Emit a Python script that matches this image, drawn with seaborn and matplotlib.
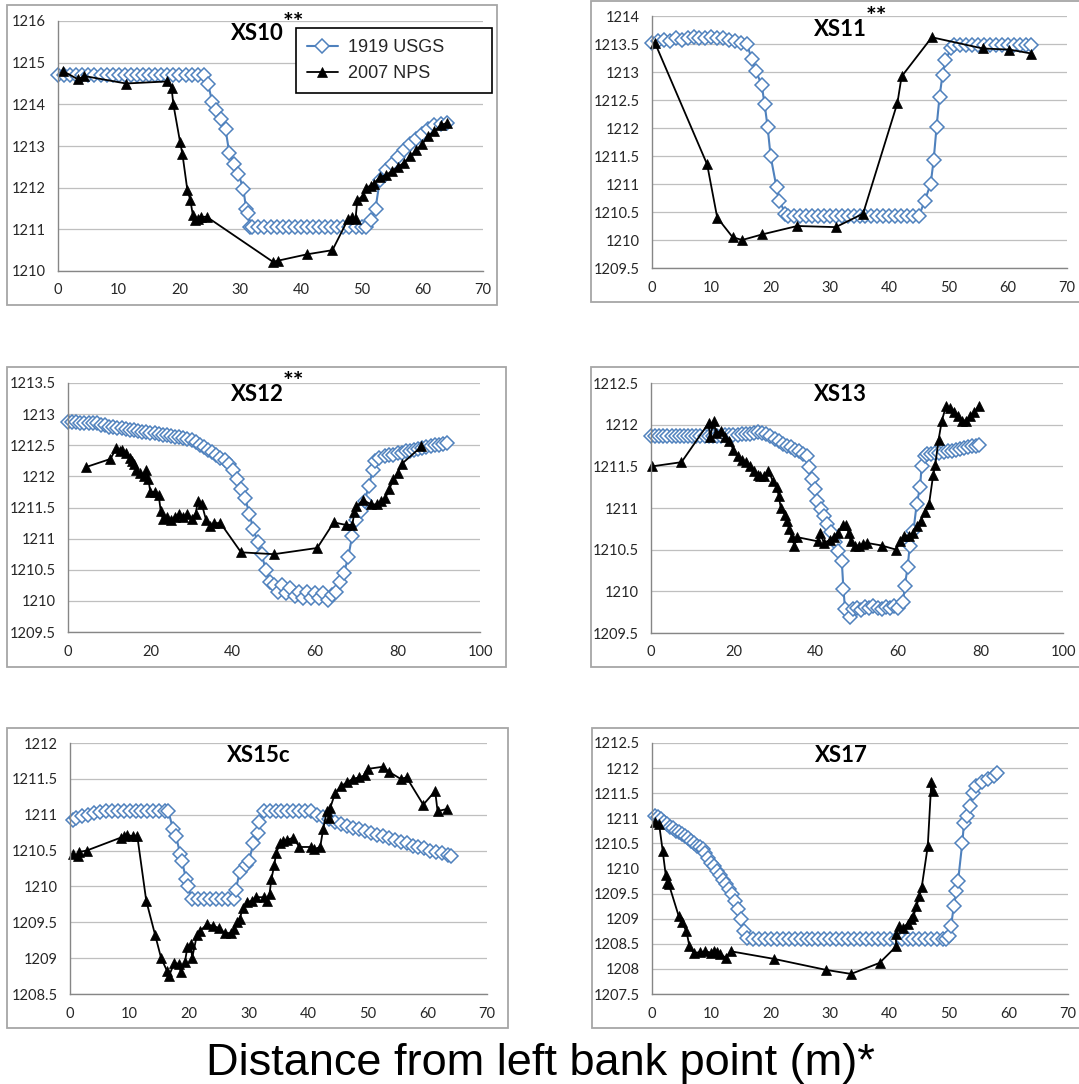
import matplotlib
matplotlib.use("Agg")
import matplotlib.pyplot as plt
import seaborn as sns
from matplotlib.patches import Rectangle

# ---- XS10 ----
xs10_usgs_x = [0, 1, 2, 3, 4, 5, 6, 7, 8, 9, 10, 11, 12, 13, 14, 15, 16, 17, 18, 19, 20, 21, 22, 23, 24,
               24.7, 25.4, 26.0, 26.9, 27.6, 28.2, 29.0, 29.7, 30.5, 31.0, 31.3, 31.7,
               32, 33, 34, 35, 36, 37, 38, 39, 40, 41, 42, 43, 44, 45, 46, 47, 48, 49, 50,
               50.8, 51.6, 52.3, 53.0, 54, 55, 56, 57, 58, 59, 60, 61, 62, 63, 64]
xs10_usgs_y = [1214.7, 1214.7, 1214.7, 1214.7, 1214.7, 1214.7, 1214.7, 1214.7, 1214.7, 1214.7,
               1214.7, 1214.7, 1214.7, 1214.7, 1214.7, 1214.7, 1214.7, 1214.7, 1214.7, 1214.7,
               1214.7, 1214.7, 1214.7, 1214.7, 1214.7,
               1214.5, 1214.06, 1213.86, 1213.66, 1213.4, 1212.84, 1212.58, 1212.34, 1211.98, 1211.5, 1211.38, 1211.05,
               1211.05, 1211.05, 1211.05, 1211.05, 1211.05, 1211.05, 1211.05, 1211.05, 1211.05, 1211.05,
               1211.05, 1211.05, 1211.05, 1211.05, 1211.05, 1211.05, 1211.05, 1211.05, 1211.05,
               1211.05, 1211.22, 1211.5, 1212.18, 1212.42, 1212.58, 1212.74, 1212.9, 1213.06, 1213.18,
               1213.3, 1213.4, 1213.5, 1213.52, 1213.55]
xs10_nps_x = [0.8, 3.3, 4.3, 11.2, 18.0, 18.7, 19.0, 20.1, 20.5, 21.3, 21.8, 22.2, 22.6, 23.0, 23.5, 24.5,
              35.4, 36.3, 41.0, 45.2, 47.8, 48.5, 49.0, 49.3, 50.2, 50.8, 51.5, 52.0, 53.0, 54.0, 55.0,
              56.0, 57.0, 58.0, 59.0, 60.0, 61.0, 62.0, 63.0, 64.0]
xs10_nps_y = [1214.8, 1214.6, 1214.68, 1214.5, 1214.55, 1214.4, 1214.0, 1213.1, 1212.8, 1211.95, 1211.7,
              1211.35, 1211.22, 1211.25, 1211.3, 1211.3, 1210.22, 1210.25, 1210.4, 1210.5, 1211.25, 1211.3,
              1211.25, 1211.7, 1211.8, 1212.0, 1212.05, 1212.1, 1212.25, 1212.3, 1212.4, 1212.5, 1212.6,
              1212.75, 1212.9, 1213.05, 1213.25, 1213.35, 1213.5, 1213.55]

# ---- XS11 ----
xs11_usgs_x = [0, 1, 2, 3, 4, 5, 6, 7, 8, 9, 10, 11, 12, 13, 14, 15, 16,
               16.8, 17.5, 18.5, 19, 19.5, 20, 21, 21.5, 22.5,
               23, 24, 25, 26, 27, 28, 29, 30, 31, 32, 33, 34, 35, 36, 37, 38, 39, 40, 41, 42, 43, 44, 45,
               46, 47, 47.5, 48, 48.5, 49, 49.5, 50.5,
               51, 52, 53, 54, 55, 56, 57, 58, 59, 60, 61, 62, 63, 64]
xs11_usgs_y = [1213.52, 1213.55, 1213.57, 1213.55, 1213.6, 1213.58, 1213.6, 1213.62, 1213.6, 1213.6,
               1213.62, 1213.6, 1213.6, 1213.57, 1213.55, 1213.52, 1213.5,
               1213.24, 1213.02, 1212.77, 1212.42, 1212.02, 1211.5, 1210.94, 1210.7, 1210.47,
               1210.42, 1210.42, 1210.42, 1210.42, 1210.42, 1210.42, 1210.42, 1210.42, 1210.42, 1210.42,
               1210.42, 1210.42, 1210.42, 1210.42, 1210.42, 1210.42, 1210.42, 1210.42, 1210.42, 1210.42,
               1210.42, 1210.42, 1210.42,
               1210.7, 1211.0, 1211.42, 1212.02, 1212.56, 1212.95, 1213.22, 1213.42,
               1213.48, 1213.48, 1213.48, 1213.48, 1213.48, 1213.48, 1213.48, 1213.48, 1213.48, 1213.48,
               1213.48, 1213.48, 1213.48, 1213.48]
xs11_nps_x = [0.5, 9.3, 11.0, 13.6, 15.2, 18.6, 24.5, 31.0, 35.6, 41.4, 42.1, 47.2, 55.8, 60.3, 64.0]
xs11_nps_y = [1213.52, 1211.35, 1210.4, 1210.05, 1210.0, 1210.1, 1210.25, 1210.23, 1210.47, 1212.45,
              1212.92, 1213.62, 1213.42, 1213.4, 1213.33]

# ---- XS12 ----
xs12_usgs_x = [0, 1, 2, 3, 4, 5, 6, 7, 8, 9, 10, 11, 12, 13, 14, 15, 16, 17, 18, 19, 20, 21, 22, 23, 24,
               25, 26, 27, 28, 29, 30, 31, 32, 33, 34, 35, 36, 37, 38, 39, 40, 41, 42, 43, 44, 45, 46, 47,
               48, 49, 50, 51, 52, 53, 54, 55, 56, 57, 58, 59, 60, 61, 62, 63, 64, 65, 66, 67, 68, 69, 70,
               71, 72, 73, 74, 74.5, 75.5, 77, 78, 79, 80, 81, 82, 83, 84, 85, 86, 87, 88, 89, 90, 91, 92]
xs12_usgs_y = [1212.87, 1212.87, 1212.87, 1212.86, 1212.86, 1212.86, 1212.85, 1212.85, 1212.83, 1212.82,
               1212.8, 1212.79, 1212.78, 1212.77, 1212.76, 1212.75, 1212.74, 1212.73, 1212.72, 1212.71,
               1212.7, 1212.69, 1212.68, 1212.67, 1212.66, 1212.65, 1212.64, 1212.63, 1212.62, 1212.6,
               1212.58, 1212.55, 1212.51, 1212.47, 1212.43, 1212.39, 1212.35, 1212.3, 1212.26, 1212.2,
               1212.1, 1211.95, 1211.8, 1211.65, 1211.4, 1211.15, 1210.95, 1210.75, 1210.5, 1210.3,
               1210.25, 1210.15, 1210.25, 1210.12, 1210.2, 1210.08, 1210.15, 1210.05, 1210.15, 1210.05,
               1210.12, 1210.05, 1210.12, 1210.02, 1210.1, 1210.15, 1210.3, 1210.45, 1210.7, 1211.05,
               1211.3, 1211.45, 1211.6, 1211.85, 1212.1, 1212.25, 1212.3, 1212.32, 1212.34, 1212.35,
               1212.37, 1212.38, 1212.4, 1212.41, 1212.43, 1212.44, 1212.46, 1212.47, 1212.48, 1212.5,
               1212.51, 1212.52, 1212.53]
xs12_nps_x = [4.4, 10.3, 11.7, 12.5, 13.0, 14.0, 15.0, 15.5, 16.0, 16.5, 17.5, 18.5, 19.0, 19.5, 20.0,
              21.0, 22.0, 22.5, 23.0, 24.0, 25.0, 26.0, 27.0, 28.0, 29.0, 30.0, 31.0, 31.5, 32.5, 33.5,
              34.5, 35.5, 37.0, 42.0, 50.0, 60.5, 64.5, 67.5, 69.0, 69.5, 70.0, 71.7, 73.5, 75.0, 76.0,
              77.0, 78.0, 79.0, 80.0, 81.0, 85.8]
xs12_nps_y = [1212.15, 1212.28, 1212.45, 1212.4, 1212.42, 1212.38, 1212.3, 1212.25, 1212.2, 1212.1,
              1212.05, 1212.0, 1212.1, 1211.95, 1211.75, 1211.75, 1211.7, 1211.45, 1211.32, 1211.35,
              1211.3, 1211.35, 1211.4, 1211.35, 1211.4, 1211.32, 1211.4, 1211.6, 1211.55, 1211.3,
              1211.2, 1211.25, 1211.25, 1210.78, 1210.75, 1210.85, 1211.26, 1211.22, 1211.22, 1211.42,
              1211.52, 1211.62, 1211.55, 1211.55, 1211.6, 1211.65, 1211.8, 1211.95, 1212.05, 1212.2,
              1212.48]

# ---- XS13 ----
xs13_usgs_x = [0, 1, 2, 3, 4, 5, 6, 7, 8, 9, 10, 11, 12, 13, 14, 15, 16, 17, 18, 19, 20, 21, 22, 23, 24,
               25, 26, 27, 28, 29, 30, 31, 32, 33, 34, 35, 36, 37, 37.8, 38.4, 39, 39.8, 40.4, 41.2, 42,
               42.6, 43.6, 44.7, 45.5, 46.3, 46.7, 47.1, 48.3, 49.1, 50, 51, 52, 53, 54, 55, 56, 57, 58,
               59, 60, 61.2, 61.6, 62.3, 62.8, 63.7, 64.5, 65.3, 65.7, 66.5, 67, 68, 69, 70, 71, 72, 73,
               74, 75, 76, 77, 78, 79, 79.5]
xs13_usgs_y = [1211.87, 1211.87, 1211.86, 1211.87, 1211.87, 1211.86, 1211.87, 1211.87, 1211.86, 1211.87,
               1211.87, 1211.86, 1211.87, 1211.87, 1211.86, 1211.87, 1211.87, 1211.87, 1211.88, 1211.88,
               1211.88, 1211.88, 1211.89, 1211.89, 1211.89, 1211.9, 1211.91, 1211.9, 1211.89, 1211.86,
               1211.83, 1211.8, 1211.77, 1211.75, 1211.73, 1211.7, 1211.68, 1211.65, 1211.63, 1211.49,
               1211.35, 1211.23, 1211.09, 1210.99, 1210.9, 1210.81, 1210.71, 1210.59, 1210.49, 1210.37,
               1210.03, 1209.79, 1209.69, 1209.79, 1209.8, 1209.78, 1209.81, 1209.8, 1209.82, 1209.8,
               1209.79, 1209.81, 1209.8, 1209.82, 1209.8, 1209.87, 1210.07, 1210.29, 1210.55, 1210.73,
               1211.05, 1211.25, 1211.51, 1211.63, 1211.65, 1211.65, 1211.66, 1211.66, 1211.67, 1211.68,
               1211.69, 1211.7, 1211.71, 1211.72, 1211.73, 1211.74, 1211.75, 1211.76]
xs13_nps_x = [0.3, 7.4, 14.0, 14.3, 15.3, 15.7, 17.0, 18.0, 19.0, 20.0, 21.0, 22.0, 23.0, 24.0, 25.0,
              26.0, 26.5, 27.5, 28.5, 29.5, 30.5, 31.0, 31.5, 32.5, 33.0, 33.5, 34.2, 34.8, 35.5, 40.5,
              41.0, 42.0, 43.5, 44.5, 45.5, 46.5, 47.3, 48.0, 48.5, 49.5, 50.5, 51.5, 52.5, 56.0, 59.5,
              60.5, 61.5, 62.5, 63.5, 64.5, 65.5, 66.5, 67.5, 68.5, 69.0, 69.8, 70.6, 71.6, 72.5, 73.5,
              74.5, 75.5, 76.5, 77.5, 78.5, 79.5]
xs13_nps_y = [1211.5, 1211.55, 1212.02, 1211.85, 1212.05, 1211.9, 1211.92, 1211.85, 1211.8, 1211.7,
              1211.62, 1211.58, 1211.55, 1211.5, 1211.45, 1211.4, 1211.38, 1211.38, 1211.45, 1211.33,
              1211.25, 1211.15, 1211.0, 1210.92, 1210.85, 1210.75, 1210.65, 1210.55, 1210.65, 1210.6,
              1210.7, 1210.58, 1210.62, 1210.65, 1210.7, 1210.8, 1210.8, 1210.7, 1210.6, 1210.55,
              1210.55, 1210.57, 1210.58, 1210.55, 1210.5, 1210.6, 1210.67, 1210.67, 1210.7, 1210.78,
              1210.85, 1210.95, 1211.05, 1211.4, 1211.52, 1211.82, 1212.05, 1212.22, 1212.2, 1212.15,
              1212.1, 1212.05, 1212.05, 1212.1, 1212.15, 1212.22]

# ---- XS15c ----
xs15_usgs_x = [0.5, 1, 2, 3, 4, 5, 6, 7, 8, 9, 10, 11, 12, 13, 14, 15, 16, 16.5, 17.3, 17.8, 18.5, 18.8,
               19.5, 19.8, 20.5, 21.5, 22.5, 23.5, 24.5, 25.5, 26.5, 27.5, 27.8, 28.5, 29.5, 30, 30.8,
               31.5, 31.8, 32.5, 33.5, 34.5, 35.5, 36.5, 37.5, 38.5, 39.5, 40.5, 41.5, 42.5, 43.5, 44.5,
               45.5, 46.5, 47.5, 48.5, 49.5, 50.5, 51.5, 52.5, 53.5, 54.5, 55.5, 56.5, 57.5, 58.5, 59.5,
               60.5, 61.5, 62.5, 63.5, 64]
xs15_usgs_y = [1210.92, 1210.95, 1210.98, 1211.0, 1211.02, 1211.04, 1211.05, 1211.05, 1211.05, 1211.05,
               1211.05, 1211.05, 1211.05, 1211.05, 1211.05, 1211.05, 1211.05, 1211.05, 1210.8, 1210.7,
               1210.45, 1210.35, 1210.1, 1210.0, 1209.82, 1209.82, 1209.82, 1209.82, 1209.82, 1209.82,
               1209.82, 1209.82, 1209.95, 1210.2, 1210.3, 1210.35, 1210.6, 1210.75, 1210.9, 1211.05,
               1211.05, 1211.05, 1211.05, 1211.05, 1211.05, 1211.05, 1211.05, 1211.05, 1211.0, 1210.97,
               1210.94, 1210.9, 1210.87, 1210.84, 1210.82, 1210.8, 1210.77, 1210.75, 1210.72, 1210.7,
               1210.67, 1210.65, 1210.62, 1210.6, 1210.57, 1210.55, 1210.53, 1210.5, 1210.48, 1210.46,
               1210.44, 1210.43]
xs15_nps_x = [0.5, 1.3, 1.5, 2.8, 8.5, 9.0, 9.5, 10.5, 11.3, 12.8, 14.3, 15.3, 16.3, 16.6, 17.5, 18.3,
              18.6, 19.3, 19.7, 20.3, 20.5, 21.3, 21.8, 23.0, 24.0, 25.0, 26.0, 27.0, 27.5, 28.0, 28.5,
              29.0, 29.7, 30.5, 31.2, 32.5, 33.0, 33.5, 33.8, 34.3, 34.6, 35.3, 35.7, 36.5, 37.5, 38.5,
              40.5, 41.0, 42.0, 42.5, 43.1, 43.5, 43.7, 44.5, 45.5, 46.5, 47.5, 48.5, 49.5, 50.1, 52.6,
              53.5, 55.5, 56.5, 59.3, 61.3, 61.7, 63.3]
xs15_nps_y = [1210.45, 1210.42, 1210.48, 1210.5, 1210.68, 1210.7, 1210.72, 1210.7, 1210.7, 1209.8,
              1209.32, 1209.0, 1208.82, 1208.75, 1208.93, 1208.92, 1208.8, 1208.95, 1209.15, 1209.2,
              1209.0, 1209.32, 1209.38, 1209.47, 1209.45, 1209.42, 1209.35, 1209.35, 1209.4, 1209.5,
              1209.55, 1209.7, 1209.78, 1209.8, 1209.85, 1209.85, 1209.8, 1209.9, 1210.1, 1210.3,
              1210.47, 1210.6, 1210.63, 1210.65, 1210.68, 1210.55, 1210.55, 1210.52, 1210.55, 1210.8,
              1211.05, 1210.95, 1211.1, 1211.3, 1211.4, 1211.45, 1211.5, 1211.52, 1211.55, 1211.64,
              1211.67, 1211.6, 1211.5, 1211.52, 1211.14, 1211.33, 1211.05, 1211.08]

# ---- XS17 ----
xs17_usgs_x = [0.5, 1, 1.5, 2, 2.5, 3, 3.5, 4, 4.5, 5, 5.5, 6, 6.5, 7, 7.5, 8, 8.5, 9, 9.5, 10, 10.5,
               11, 11.5, 12, 12.5, 13, 13.5, 14, 14.5, 15, 15.5, 16,
               17, 18, 19, 20, 21, 22, 23, 24, 25, 26, 27, 28, 29, 30, 31, 32, 33, 34, 35, 36, 37, 38,
               39, 40, 41, 42, 43, 44, 45, 46, 47, 48, 49,
               49.5, 50, 50.3, 50.8, 51.2, 51.5, 52.2, 52.5, 53, 53.5, 54, 54.5, 55.5, 56.5, 57.5, 58]
xs17_usgs_y = [1211.05, 1211.02, 1210.98, 1210.93, 1210.88, 1210.83, 1210.8, 1210.75, 1210.72, 1210.68,
               1210.65, 1210.6, 1210.55, 1210.5, 1210.45, 1210.42, 1210.38, 1210.3, 1210.2, 1210.1,
               1210.05, 1209.95, 1209.87, 1209.78, 1209.7, 1209.6, 1209.5, 1209.35, 1209.2, 1209.0,
               1208.75, 1208.62,
               1208.6, 1208.6, 1208.6, 1208.6, 1208.6, 1208.6, 1208.6, 1208.6, 1208.6, 1208.6, 1208.6,
               1208.6, 1208.6, 1208.6, 1208.6, 1208.6, 1208.6, 1208.6, 1208.6, 1208.6, 1208.6, 1208.6,
               1208.6, 1208.6, 1208.6, 1208.6, 1208.6, 1208.6, 1208.6, 1208.6, 1208.6, 1208.6, 1208.6,
               1208.6, 1208.65, 1208.85, 1209.25, 1209.55, 1209.75, 1210.5, 1210.9, 1211.05, 1211.25,
               1211.5, 1211.65, 1211.72, 1211.78, 1211.85, 1211.9]
xs17_nps_x = [0.5, 1.2, 1.8, 2.3, 2.6, 2.8, 4.5, 5.0, 5.8, 6.3, 7.0, 8.0, 9.0, 10.0, 10.5, 11.0, 11.5,
              12.4, 13.3, 20.5, 29.3, 33.5, 38.3, 41.1, 41.0, 41.5, 42.2, 43.0, 43.5, 44.0, 44.5, 45.0,
              45.4, 46.4, 47.0, 47.2]
xs17_nps_y = [1210.92, 1210.88, 1210.35, 1209.88, 1209.72, 1209.7, 1209.05, 1208.93, 1208.75, 1208.45,
              1208.32, 1208.33, 1208.35, 1208.32, 1208.35, 1208.33, 1208.3, 1208.22, 1208.35, 1208.2,
              1207.98, 1207.9, 1208.12, 1208.45, 1208.7, 1208.85, 1208.82, 1208.9, 1209.0, 1209.05,
              1209.25, 1209.45, 1209.64, 1210.44, 1211.72, 1211.55]

# axis ticks
xticks_70 = [0, 10, 20, 30, 40, 50, 60, 70]
xticks_100 = [0, 20, 40, 60, 80, 100]
yticks_xs10 = [1210, 1211, 1212, 1213, 1214, 1215, 1216]
yticks_xs11 = [1209.5, 1210, 1210.5, 1211, 1211.5, 1212, 1212.5, 1213, 1213.5, 1214]
yticks_xs12 = [1209.5, 1210, 1210.5, 1211, 1211.5, 1212, 1212.5, 1213, 1213.5]
yticks_xs13 = [1209.5, 1210, 1210.5, 1211, 1211.5, 1212, 1212.5]
yticks_xs15 = [1208.5, 1209, 1209.5, 1210, 1210.5, 1211, 1211.5, 1212]
yticks_xs17 = [1207.5, 1208, 1208.5, 1209, 1209.5, 1210, 1210.5, 1211, 1211.5, 1212, 1212.5]

titles = ["XS10", "XS11", "XS12", "XS13", "XS15c", "XS17"]
starred = [True, True, True, False, False, False]
series_names = ["1919 USGS", "2007 NPS"]
xlabel = "Distance from left bank point (m)*"

sns.set_style("white")
plt.rcParams["font.family"] = ["Lato", "DejaVu Sans"]

BLUE = "#4F81BD"
W, H = 1079, 1084
fig = plt.figure(figsize=(W / 100, H / 100), dpi=100)


def px_axes(left, top, right, bottom):
    return fig.add_axes([left / W, 1 - bottom / H, (right - left) / W, (bottom - top) / H])


def frame(left, top, right, bottom):
    fig.add_artist(Rectangle((left / W, 1 - bottom / H), (right - left) / W, (bottom - top) / H,
                             transform=fig.transFigure, fill=False, edgecolor="#A6A6A6", lw=1.3))


# (plot area, frame box, title centre) in pixels
layout = [
    ((58, 21, 483, 271), (7, 5, 497, 305), (257, 34)),
    ((652, 16, 1067, 268), (591, 1, 1080, 302), (840, 29)),
    ((68, 383, 480, 632), (7, 367, 506, 667), (257, 394)),
    ((651, 383, 1063, 633), (591, 367, 1080, 667), (840, 394)),
    ((70, 743, 487, 994), (7, 728, 508, 1028), (259, 756)),
    ((652, 743, 1068, 994), (592, 728, 1080, 1028), (841, 756)),
]
panels = [
    (xs10_usgs_x, xs10_usgs_y, xs10_nps_x, xs10_nps_y, xticks_70, yticks_xs10),
    (xs11_usgs_x, xs11_usgs_y, xs11_nps_x, xs11_nps_y, xticks_70, yticks_xs11),
    (xs12_usgs_x, xs12_usgs_y, xs12_nps_x, xs12_nps_y, xticks_100, yticks_xs12),
    (xs13_usgs_x, xs13_usgs_y, xs13_nps_x, xs13_nps_y, xticks_100, yticks_xs13),
    (xs15_usgs_x, xs15_usgs_y, xs15_nps_x, xs15_nps_y, xticks_70, yticks_xs15),
    (xs17_usgs_x, xs17_usgs_y, xs17_nps_x, xs17_nps_y, xticks_70, yticks_xs17),
]

axes = []
for (box, fr, tpos), (ux, uy, nx, ny, xt, yt), title, star in zip(layout, panels, titles, starred):
    frame(*fr)
    ax = px_axes(*box)
    sns.lineplot(x=ux, y=uy, ax=ax, sort=False, estimator=None, color=BLUE, lw=1.5,
                 marker="D", markersize=7, markerfacecolor="white", markeredgecolor=BLUE,
                 markeredgewidth=1.1, label=series_names[0], clip_on=False)
    sns.lineplot(x=nx, y=ny, ax=ax, sort=False, estimator=None, color="black", lw=1.3,
                 marker="^", markersize=6.5, markerfacecolor="black", markeredgecolor="black",
                 markeredgewidth=0.5, label=series_names[1], clip_on=False)
    if ax.get_legend() is not None:
        ax.get_legend().remove()
    ax.set_xlim(xt[0], xt[-1])
    ax.set_ylim(yt[0], yt[-1])
    ax.set_xticks(xt, labels=[f"{t:g}" for t in xt])
    ax.set_yticks(yt, labels=[f"{t:g}" for t in yt])
    ax.set_xlabel("")
    ax.set_ylabel("")
    ax.yaxis.grid(True, color="#BFBFBF", lw=0.9)
    ax.set_axisbelow(True)
    ax.set_facecolor("none")
    for s in ["top", "right"]:
        ax.spines[s].set_visible(False)
    for s in ["left", "bottom"]:
        ax.spines[s].set_color("#868686")
        ax.spines[s].set_linewidth(1.0)
    ax.tick_params(length=4, width=0.9, color="#868686", labelsize=10.5, labelcolor="#262626",
                   direction="out", pad=5)
    fig.text(tpos[0] / W, 1 - tpos[1] / H, title, ha="center", va="center",
             fontsize=16, fontweight="bold", color="black")
    if star:
        fig.text((tpos[0] + 26) / W, 1 - (tpos[1] - 11) / H, "**", ha="left", va="center",
                 fontsize=18, fontweight="bold", color="black")
    axes.append(ax)

handles, labels = axes[0].get_legend_handles_labels()
leg = axes[0].legend(handles[:2], labels[:2], loc="upper left",
                     bbox_to_anchor=(296 / W, 1 - 99 / H, 196 / W, 71 / H),
                     bbox_transform=fig.transFigure, mode="expand", borderaxespad=0,
                     frameon=True, fancybox=False, framealpha=1, edgecolor="black",
                     prop={"family": "Liberation Sans", "size": 13},
                     handlelength=1.7, handletextpad=0.6, borderpad=0.6, labelspacing=0.5)
leg.get_frame().set_linewidth(1.2)

fig.text(540 / W, 1 - 1075 / H, xlabel, ha="center", va="baseline",
         fontsize=32.5, family="Liberation Sans", color="black")

fig.savefig("out.png", dpi=100)
